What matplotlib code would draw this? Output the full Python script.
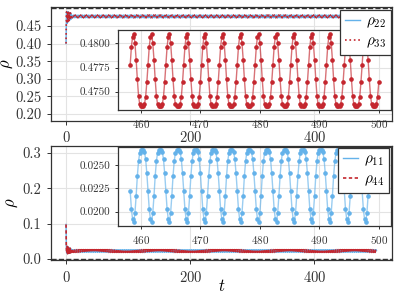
import numpy as np
import matplotlib
matplotlib.use("Agg")
import matplotlib.pyplot as plt
from matplotlib.ticker import FormatStrFormatter

plt.rcParams['font.family'] = 'serif'
plt.rcParams['font.serif'] = ['cmr10', 'DejaVu Serif']
plt.rcParams['mathtext.fontset'] = 'cm'
plt.rcParams['axes.formatter.use_mathtext'] = True

# time grid of the simulation
dt = 0.2
t_end = 500.0

# transient part (t = 0 .. 8.6)
rho22_start = [0.400, 0.432, 0.462, 0.482, 0.490, 0.487, 0.476, 0.463, 0.457, 0.462,
               0.474, 0.486, 0.491, 0.487, 0.477, 0.466, 0.461, 0.465, 0.475, 0.485,
               0.489, 0.485, 0.476, 0.468, 0.465, 0.468, 0.476, 0.484, 0.488, 0.484,
               0.477, 0.470, 0.467, 0.470, 0.476, 0.483, 0.487, 0.484, 0.478, 0.472,
               0.469, 0.471, 0.475, 0.480]
rho11_start = [0.098, 0.062, 0.040, 0.028, 0.021, 0.017, 0.019, 0.026, 0.033, 0.036,
               0.032, 0.024, 0.018, 0.015, 0.018, 0.025, 0.032, 0.034, 0.030, 0.023,
               0.017, 0.016, 0.020, 0.027, 0.032, 0.032, 0.027, 0.021, 0.017, 0.017,
               0.021, 0.027, 0.031, 0.031, 0.027, 0.022, 0.018, 0.018, 0.021, 0.026,
               0.029, 0.028, 0.024, 0.020]

# one steady-state period (15 samples)
rho22_cycle = [0.4810, 0.4800, 0.4783, 0.4763, 0.4746, 0.4737, 0.4735, 0.4735,
               0.4735, 0.4737, 0.4745, 0.4760, 0.4778, 0.4796, 0.4807]
rho11_cycle = [0.0189, 0.0199, 0.0217, 0.0238, 0.0254, 0.0263, 0.0266, 0.0266,
               0.0266, 0.0264, 0.0256, 0.0241, 0.0222, 0.0203, 0.0192]

rho_ref_top = 0.5
rho_ref_bottom = 0.0

t = np.arange(0, t_end + dt / 2, dt)
n_rest = len(t) - len(rho22_start)
reps = n_rest // len(rho22_cycle) + 1
rho22 = np.concatenate([rho22_start, np.tile(rho22_cycle, reps)[:n_rest]])
rho33 = rho22.copy()
rho11 = np.concatenate([rho11_start, np.tile(rho11_cycle, reps)[:n_rest]])
rho44 = rho11.copy()

blue = '#64b2ea'
red = '#c4262e'
grid_c = '#e3e3e3'
spine_c = '#333333'

fig = plt.figure(figsize=(3.99, 2.99), dpi=100)
ax1 = fig.add_axes([0.1266, 0.5953, 0.8559, 0.3803])
ax2 = fig.add_axes([0.1266, 0.1288, 0.8559, 0.3829])
ins1 = fig.add_axes([0.2965, 0.632, 0.6827, 0.2676])
ins2 = fig.add_axes([0.2965, 0.2441, 0.6827, 0.2642])

for ax in (ax1, ax2, ins1, ins2):
    ax.grid(True, color=grid_c, lw=0.8)
    ax.set_axisbelow(True)
    for s in ax.spines.values():
        s.set_color(spine_c)
        s.set_linewidth(0.9)
    ax.tick_params(colors=spine_c, width=0.7, length=3)

# top panel
l22, = ax1.plot(t, rho22, color=blue, lw=1.0, label=r'$\rho_{22}$')
l33, = ax1.plot(t, rho33, color=red, lw=1.2, ls=':', label=r'$\rho_{33}$')
ax1.axhline(rho_ref_top, color='#333333', lw=1.0, ls='--')
ax1.set_xlim(-25, 525)
ax1.set_ylim(0.18, 0.503)
ax1.set_yticks([0.20, 0.25, 0.30, 0.35, 0.40, 0.45])
ax1.yaxis.set_major_formatter(FormatStrFormatter('%.2f'))
ax1.set_xticks([0, 200, 400])
ax1.tick_params(labelsize=10.5)
ax1.set_ylabel(r'$\rho$', fontsize=12)
ax1.yaxis.set_label_coords(-0.105, 0.5)

# bottom panel
l11, = ax2.plot(t, rho11, color=blue, lw=1.0, label=r'$\rho_{11}$')
l44, = ax2.plot(t, rho44, color=red, lw=1.2, ls=(0, (2, 1.5)), label=r'$\rho_{44}$')
ax2.axhline(rho_ref_bottom, color='#333333', lw=1.0, ls='--')
ax2.set_xlim(-25, 525)
ax2.set_ylim(-0.004, 0.32)
ax2.set_yticks([0.0, 0.1, 0.2, 0.3])
ax2.yaxis.set_major_formatter(FormatStrFormatter('%.1f'))
ax2.set_xticks([0, 200, 400])
ax2.tick_params(labelsize=10.5)
ax2.set_ylabel(r'$\rho$', fontsize=12)
ax2.yaxis.set_label_coords(-0.088, 0.5)
ax2.set_xlabel(r'$t$', fontsize=12)
ax2.xaxis.set_label_coords(0.5, -0.15)

# insets: last part of the run
mask = t >= 458.1
ins1.plot(t[mask], rho33[mask], color=red, lw=1.0, alpha=0.65)
ins1.plot(t[mask], rho33[mask], 'o', color=red, ms=2.3, lw=0)
ins1.set_xlim(456.2, 502.0)
ins1.set_ylim(0.47311, 0.48137)
ins1.set_yticks([0.4750, 0.4775, 0.4800])
ins1.yaxis.set_major_formatter(FormatStrFormatter('%.4f'))
ins1.set_xticks([460, 470, 480, 490, 500])
ins1.tick_params(labelsize=8, length=2.5)

ins2.plot(t[mask], rho11[mask], color=blue, lw=1.0, alpha=0.65)
ins2.plot(t[mask], rho11[mask], 'o', color=blue, ms=2.3, lw=0)
ins2.set_xlim(456.2, 502.0)
ins2.set_ylim(0.01847, 0.02693)
ins2.set_yticks([0.0200, 0.0225, 0.0250])
ins2.yaxis.set_major_formatter(FormatStrFormatter('%.4f'))
ins2.set_xticks([460, 470, 480, 490, 500])
ins2.tick_params(labelsize=8, length=2.5)

leg_kw = dict(fontsize=11, frameon=True, fancybox=False, framealpha=1,
              edgecolor='#333333', handlelength=1.0, handletextpad=0.4,
              borderpad=0.3, labelspacing=0.3, borderaxespad=0)
leg1 = fig.legend(handles=[l22, l33], loc='upper right',
                  bbox_to_anchor=(0.98, 0.966), **leg_kw)
leg2 = fig.legend(handles=[l11, l44], loc='upper right',
                  bbox_to_anchor=(0.975, 0.505), **leg_kw)
for leg in (leg1, leg2):
    leg.get_frame().set_linewidth(0.9)

fig.savefig('out.png', dpi=100)
